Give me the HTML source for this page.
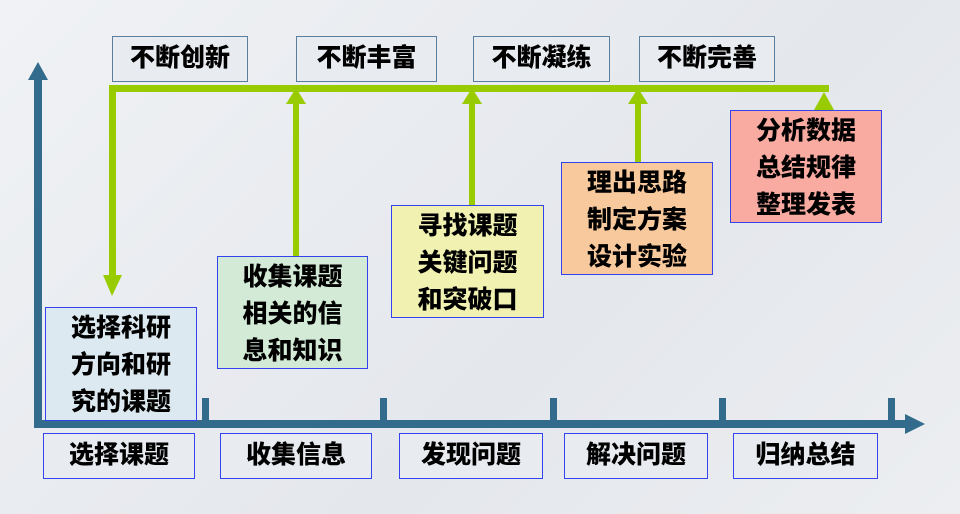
<!DOCTYPE html>
<html><head><meta charset="utf-8"><style>
body{margin:0;width:960px;height:514px;overflow:hidden;background:linear-gradient(135deg,#f0f2f5,#e4e7ec 60%,#eceef1);font-family:"Liberation Sans","Noto Sans CJK SC",sans-serif;}
.b{position:absolute;box-sizing:border-box;border:1.5px solid #3344ee;font-weight:900;font-size:25px;color:#000;text-align:center;}
.t{position:absolute;box-sizing:border-box;border:1.5px solid #5a7ea0;background:#e8ebf0;font-weight:900;font-size:25px;text-align:center;line-height:42px;color:#000;}
.m{line-height:37px;padding-top:2px;}
.s{line-height:42px;background:#e8ebf0;}
</style></head><body>
<svg width="960" height="514" style="position:absolute;left:0;top:0">
<g fill="#336b8c">
<rect x="34" y="78" width="8" height="349"/><polygon points="28,80 48,80 38,62"/>
<rect x="34" y="420" width="875" height="8"/><polygon points="905,414 905,434 925,424"/>
<rect x="202" y="398" width="7" height="24"/><rect x="380" y="398" width="7" height="24"/><rect x="550" y="398" width="7" height="24"/><rect x="719" y="398" width="7" height="24"/><rect x="888" y="398" width="7" height="24"/>
</g>
<g fill="#99cc00">
<rect x="109" y="85" width="720" height="7"/>
<rect x="109" y="85" width="7" height="190"/><polygon points="103,275 122,275 112,296"/>
<rect x="293" y="100" width="6" height="158"/><polygon points="286,104 306,104 296,88"/>
<rect x="469" y="100" width="6" height="106"/><polygon points="462,104 482,104 472,88"/>
<rect x="635" y="100" width="6" height="62"/><polygon points="628,104 648,104 638,88"/>
<polygon points="814,110 834,110 824,92"/>
</g>
</svg>
<div class="t" style="left:112px;top:36px;width:136px;height:46px">不断创新</div>
<div class="t" style="left:296px;top:36px;width:141px;height:46px">不断丰富</div>
<div class="t" style="left:473px;top:36px;width:137px;height:46px">不断凝练</div>
<div class="t" style="left:639px;top:36px;width:136px;height:46px">不断完善</div>
<div class="b m" style="left:45px;top:307px;width:152px;height:114px;background:#dde9f0">选择科研<br>方向和研<br>究的课题</div>
<div class="b m" style="left:217px;top:256px;width:151px;height:113px;background:#d2ead6">收集课题<br>相关的信<br>息和知识</div>
<div class="b m" style="left:391px;top:205px;width:153px;height:113px;background:#f1f1b2">寻找课题<br>关键问题<br>和突破口</div>
<div class="b m" style="left:561px;top:162px;width:152px;height:113px;background:#f8c99c">理出思路<br>制定方案<br>设计实验</div>
<div class="b m" style="left:730px;top:110px;width:152px;height:113px;background:#f9aba2">分析数据<br>总结规律<br>整理发表</div>
<div class="b s" style="left:43px;top:433px;width:152px;height:46px">选择课题</div>
<div class="b s" style="left:220px;top:433px;width:152px;height:46px">收集信息</div>
<div class="b s" style="left:399px;top:433px;width:144px;height:46px">发现问题</div>
<div class="b s" style="left:564px;top:433px;width:144px;height:46px">解决问题</div>
<div class="b s" style="left:733px;top:433px;width:145px;height:46px">归纳总结</div>
</body></html>
